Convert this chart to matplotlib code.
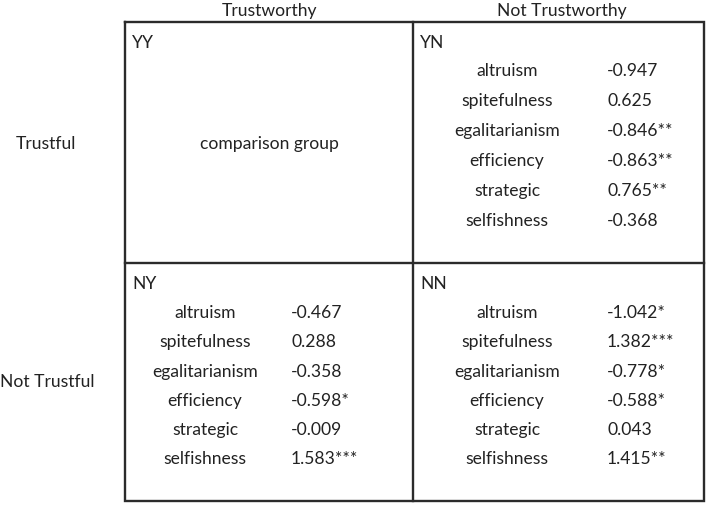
import matplotlib
matplotlib.use("Agg")
import matplotlib.pyplot as plt

# --------------------------------------------------------------------------
# DATA
# --------------------------------------------------------------------------
col_headers = ["Trustworthy", "Not Trustworthy"]
row_headers = ["Trustful", "Not Trustful"]
cell_codes = ["YY", "YN", "NY", "NN"]
traits = ["altruism", "spitefulness", "egalitarianism", "efficiency", "strategic", "selfishness"]

yn_values = ["-0.947", "0.625", "-0.846**", "-0.863**", "0.765**", "-0.368"]
ny_values = ["-0.467", "0.288", "-0.358", "-0.598*", "-0.009", "1.583***"]
nn_values = ["-1.042*", "1.382***", "-0.778*", "-0.588*", "0.043", "1.415**"]
yy_note = "comparison group"

# --------------------------------------------------------------------------
# LAYOUT (pixel coordinates, y grows downward)
# --------------------------------------------------------------------------
W, H = 708, 505
box_left, box_mid, box_right = 125, 413, 704
box_top, box_hmid, box_bottom = 22, 263, 501

FONT = "Lato"
FS = 12.6
TEXT_COLOR = "#222222"
LINE_COLOR = "#2b2b2b"

fig = plt.figure(figsize=(W / 100, H / 100), dpi=100)
ax = fig.add_axes([0, 0, 1, 1])
ax.set_xlim(0, W)
ax.set_ylim(H, 0)
ax.axis("off")

# grid lines
ax.plot([box_left, box_right, box_right, box_left, box_left],
        [box_top, box_top, box_bottom, box_bottom, box_top],
        color=LINE_COLOR, lw=1.7, solid_joinstyle="miter")
ax.plot([box_mid, box_mid], [box_top, box_bottom], color=LINE_COLOR, lw=1.7)
ax.plot([box_left, box_right], [box_hmid, box_hmid], color=LINE_COLOR, lw=1.7)


def txt(x, y, s, ha="center"):
    ax.text(x, y, s, ha=ha, va="center", fontsize=FS, family=FONT, color=TEXT_COLOR)


# headers
txt((box_left + box_mid) / 2 + 1, 11, col_headers[0])
txt((box_mid + box_right) / 2 + 3, 11, col_headers[1])
txt(46, 144, row_headers[0])
txt(47, 382, row_headers[1])

# cell corner codes
code_pos = [(box_left + 7, 43), (box_mid + 7, 43), (box_left + 7, 284), (box_mid + 7, 284)]
for code, (x, y) in zip(cell_codes, code_pos):
    txt(x, y, code, ha="left")

txt((box_left + box_mid) / 2, 144, yy_note)


def draw_cell(values, label_x, value_x, first_y, step):
    for i, (trait, val) in enumerate(zip(traits, values)):
        y = first_y + i * step
        txt(label_x, y, trait)
        txt(value_x, y, val, ha="left")


draw_cell(yn_values, 507, 607, 71, 30)
draw_cell(ny_values, 205, 291, 313, 29.3)
draw_cell(nn_values, 507, 607, 313, 29.3)

fig.savefig("out.png", dpi=100, facecolor="white")
